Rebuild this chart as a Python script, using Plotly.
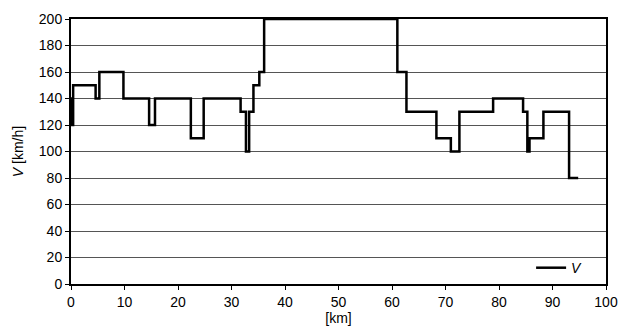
import plotly.graph_objects as go

# Step breakpoints (km) and speed values (km/h), drawn as horizontal-then-vertical steps
km = [0, 0.1, 0.4, 4.6, 5.3, 9.8, 14.6, 15.7, 22.4, 24.8, 31.7, 32.7, 33.3,
      34.1, 35.2, 36.1, 61.0, 62.7, 68.3, 71.0, 72.6, 78.9, 84.5, 85.3, 85.7,
      88.3, 93.1, 94.8]
speed = [140, 120, 150, 140, 160, 140, 120, 140, 110, 140, 130, 100, 130,
         150, 160, 200, 160, 130, 110, 100, 130, 140, 130, 100, 110,
         130, 80, 80]

x_ticks = [0, 10, 20, 30, 40, 50, 60, 70, 80, 90, 100]
y_ticks = [0, 20, 40, 60, 80, 100, 120, 140, 160, 180, 200]

font = dict(family="Liberation Sans, Arial, sans-serif", size=14, color="black")

fig = go.Figure()
fig.add_trace(go.Scatter(
    x=km, y=speed, mode="lines", line_shape="hv",
    line=dict(color="black", width=2.5),
    name="<i>V</i>",
))

fig.update_layout(
    width=627, height=331,
    margin=dict(l=71, r=21, t=19, b=47, autoexpand=False),
    paper_bgcolor="white", plot_bgcolor="white",
    font=font,
    showlegend=True,
    legend=dict(x=0.86, y=0.06, xanchor="left", yanchor="middle",
                bgcolor="rgba(0,0,0,0)", font=font, itemwidth=30,
                tracegroupgap=0),
    xaxis=dict(range=[0, 100], tickvals=x_ticks, ticks="outside", ticklen=4,
               tickcolor="black", showline=True, linecolor="black", linewidth=1.5,
               mirror=True, showgrid=False, zeroline=False, automargin=False,
               title=dict(text="[km]", standoff=2, font=font)),
    yaxis=dict(range=[0, 200], tickvals=y_ticks, ticks="outside", ticklen=4,
               tickcolor="black", showline=True, linecolor="black", linewidth=2,
               mirror=True, showgrid=True, gridcolor="#555555", gridwidth=1,
               zeroline=False, automargin=False,
               title=dict(text="<i>V</i> [km/h]", standoff=12, font=font)),
)

# Remove the browser's default page margin so the figure sits at the top-left corner
fig.write_html("out.html", config={"displayModeBar": False},
               post_script="document.body.style.margin='0';")
